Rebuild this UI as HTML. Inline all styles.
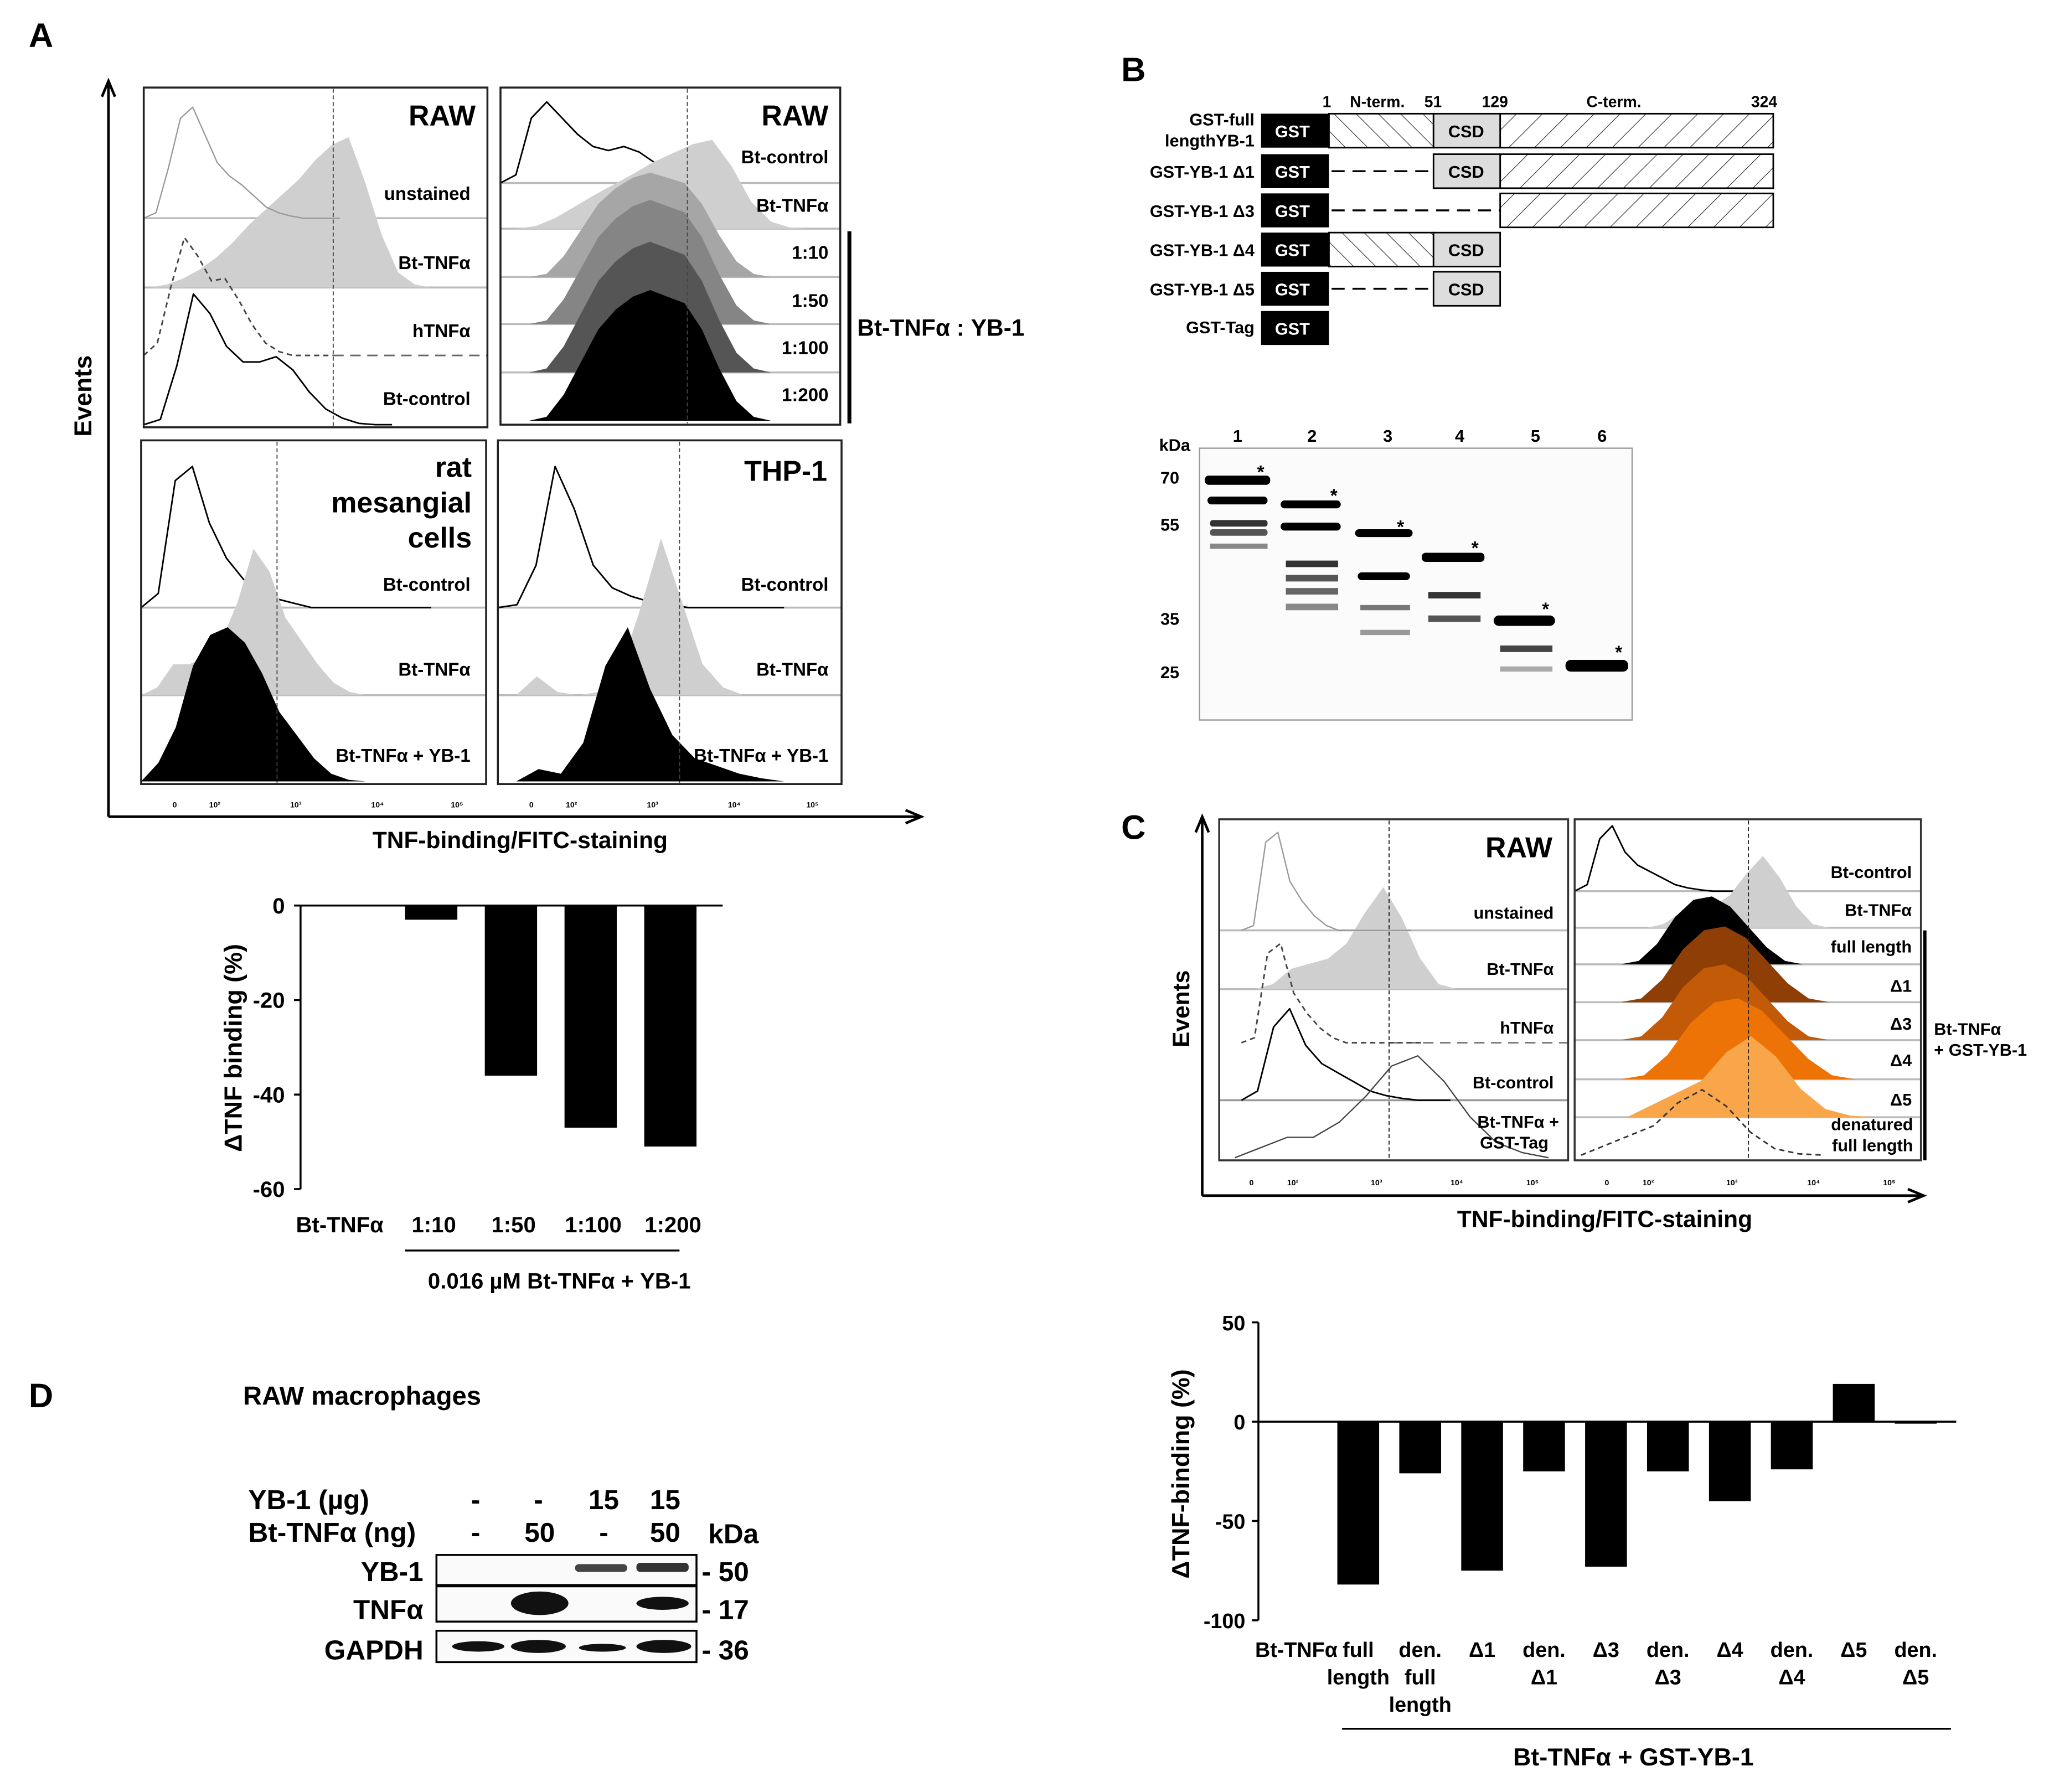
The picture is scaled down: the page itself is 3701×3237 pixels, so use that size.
<!DOCTYPE html>
<html><head><meta charset="utf-8"><style>
html,body{margin:0;padding:0;background:#fff}
svg{display:block}
text{font-family:"Liberation Sans",Arial,sans-serif;font-weight:bold;fill:#000}
</style></head><body>
<svg id="fig" width="3701" height="3237" viewBox="0 0 1568 1371.4" xmlns="http://www.w3.org/2000/svg">
<!-- Panel A -->
<text x="22" y="36" font-size="26">A</text>
<g stroke="#000" stroke-width="2" fill="none">
<line x1="83" y1="625" x2="83" y2="64"/><polyline points="78,74 83,62 88,74"/>
<line x1="83" y1="625" x2="703" y2="625"/><polyline points="693,620 705,625 693,630"/>
</g>
<text x="70" y="303" font-size="19" transform="rotate(-90 70 303)" text-anchor="middle">Events</text>
<text x="398" y="649" font-size="18" text-anchor="middle">TNF-binding/FITC-staining</text>
<g id="histA"></g>
<g fill="none" stroke="#222" stroke-width="1.5">
<rect x="110" y="67" width="263" height="260"/><rect x="383" y="67" width="260" height="258"/>
<rect x="108" y="337" width="264" height="263"/><rect x="381" y="337" width="263" height="263"/>
</g>
<g stroke="#444" stroke-width="0.8" stroke-dasharray="3,2">
<line x1="255" y1="68" x2="255" y2="326"/><line x1="526" y1="68" x2="526" y2="324"/>
<line x1="212" y1="338" x2="212" y2="599"/><line x1="520" y1="338" x2="520" y2="599"/>
</g>
<g font-size="14" text-anchor="end">
<text x="364" y="96" font-size="22">RAW</text><text x="360" y="153">unstained</text><text x="360" y="206">Bt-TNFα</text><text x="360" y="258">hTNFα</text><text x="360" y="310">Bt-control</text>
<text x="634" y="96" font-size="22">RAW</text><text x="634" y="125">Bt-control</text><text x="634" y="162">Bt-TNFα</text><text x="634" y="198">1:10</text><text x="634" y="235">1:50</text><text x="634" y="271">1:100</text><text x="634" y="307">1:200</text>
<text x="361" y="365" font-size="22">rat</text><text x="361" y="392" font-size="22">mesangial</text><text x="361" y="419" font-size="22">cells</text>
<text x="360" y="452">Bt-control</text><text x="360" y="517">Bt-TNFα</text><text x="360" y="583">Bt-TNFα + YB-1</text>
<text x="633" y="368" font-size="22">THP-1</text><text x="634" y="452">Bt-control</text><text x="634" y="517">Bt-TNFα</text><text x="634" y="583">Bt-TNFα + YB-1</text>
</g>
<line x1="650" y1="177" x2="650" y2="324" stroke="#000" stroke-width="3"/>
<text x="656" y="257" font-size="18">Bt-TNFα : YB-1</text>
<g font-size="6" font-weight="normal" fill="#333">
<text x="132" y="618">0</text><text x="160" y="618">10²</text><text x="222" y="618">10³</text><text x="284" y="618">10⁴</text><text x="345" y="618">10⁵</text>
<text x="405" y="618">0</text><text x="433" y="618">10²</text><text x="495" y="618">10³</text><text x="557" y="618">10⁴</text><text x="617" y="618">10⁵</text>
</g>
<!-- Bar chart A -->
<g id="barA"></g>
<text x="185" y="802" font-size="19" text-anchor="middle" transform="rotate(-90 185 802)">ΔTNF binding (%)</text>
<line x1="310" y1="957" x2="520" y2="957" stroke="#000" stroke-width="1.5"/>
<text x="428" y="986" font-size="17" text-anchor="middle">0.016 µM Bt-TNFα + YB-1</text>
<!-- Panel B -->
<text x="858" y="62" font-size="26">B</text>
<g>
<g font-size="12"><text x="1012" y="82">1</text><text x="1033" y="82">N-term.</text><text x="1090" y="82">51</text><text x="1134" y="82">129</text><text x="1214" y="82">C-term.</text><text x="1340" y="82">324</text></g>
<defs><pattern id="hatch" width="14" height="14" patternUnits="userSpaceOnUse" patternTransform="rotate(45)"><line x1="0" y1="0" x2="0" y2="14" stroke="#333" stroke-width="1"/></pattern>
<pattern id="hatchN" width="12" height="12" patternUnits="userSpaceOnUse" patternTransform="rotate(-45)"><line x1="0" y1="0" x2="0" y2="12" stroke="#333" stroke-width="1"/></pattern></defs>
<g font-size="13" text-anchor="end">
<text x="960" y="96">GST-full</text><text x="960" y="112">lengthYB-1</text><text x="960" y="136">GST-YB-1 Δ1</text><text x="960" y="166">GST-YB-1 Δ3</text><text x="960" y="196">GST-YB-1 Δ4</text><text x="960" y="226">GST-YB-1 Δ5</text><text x="960" y="255">GST-Tag</text>
</g>
<g fill="#000"><rect x="965" y="87" width="52" height="26"/><rect x="965" y="118" width="52" height="26"/><rect x="965" y="148" width="52" height="26"/><rect x="965" y="178" width="52" height="26"/><rect x="965" y="208" width="52" height="26"/><rect x="965" y="238" width="52" height="26"/></g>
<g font-size="13" text-anchor="middle"><text x="989" y="105" style="fill:#fff">GST</text><text x="989" y="136" style="fill:#fff">GST</text><text x="989" y="166" style="fill:#fff">GST</text><text x="989" y="196" style="fill:#fff">GST</text><text x="989" y="226" style="fill:#fff">GST</text><text x="989" y="256" style="fill:#fff">GST</text></g>
<g stroke="#000" stroke-width="1.2">
<rect x="1017" y="87" width="80" height="26" fill="url(#hatchN)"/><rect x="1148" y="87" width="209" height="26" fill="url(#hatch)"/>
<rect x="1148" y="118" width="209" height="26" fill="url(#hatch)"/><rect x="1148" y="148" width="209" height="26" fill="url(#hatch)"/>
<rect x="1017" y="178" width="80" height="26" fill="url(#hatchN)"/>
<g fill="#ddd"><rect x="1097" y="87" width="51" height="26"/><rect x="1097" y="118" width="51" height="26"/><rect x="1097" y="178" width="51" height="26"/><rect x="1097" y="208" width="51" height="26"/></g>
<g stroke-dasharray="10,6" stroke-width="1.5"><line x1="1019" y1="131" x2="1097" y2="131"/><line x1="1019" y1="161" x2="1148" y2="161"/><line x1="1019" y1="221" x2="1097" y2="221"/></g>
</g>
<g font-size="13" text-anchor="middle"><text x="1122" y="105">CSD</text><text x="1122" y="136">CSD</text><text x="1122" y="196">CSD</text><text x="1122" y="226">CSD</text></g>
</g>
<g>
<rect x="918" y="343" width="331" height="208" fill="#fbfbfb" stroke="#999" stroke-width="1"/>
<g font-size="13"><text x="887" y="345">kDa</text><text x="888" y="370">70</text><text x="888" y="406">55</text><text x="888" y="478">35</text><text x="888" y="519">25</text></g>
<g font-size="13" text-anchor="middle"><text x="947" y="338">1</text><text x="1004" y="338">2</text><text x="1062" y="338">3</text><text x="1117" y="338">4</text><text x="1175" y="338">5</text><text x="1226" y="338">6</text></g>
<g fill="#000">
<rect x="922" y="364" width="50" height="7" rx="3"/><rect x="924" y="380" width="46" height="6" rx="3"/><rect x="926" y="398" width="44" height="5" rx="2" fill="#333"/><rect x="926" y="405" width="44" height="5" rx="2" fill="#555"/><rect x="926" y="416" width="44" height="4" fill="#888"/>
<rect x="980" y="383" width="46" height="6" rx="3"/><rect x="980" y="400" width="46" height="6" rx="3"/><rect x="984" y="429" width="40" height="5" fill="#333"/><rect x="984" y="440" width="40" height="5" fill="#555"/><rect x="984" y="450" width="40" height="5" fill="#666"/><rect x="984" y="462" width="40" height="5" fill="#888"/>
<rect x="1037" y="405" width="44" height="6" rx="3"/><rect x="1039" y="438" width="40" height="6" rx="3"/><rect x="1041" y="463" width="38" height="4" fill="#777"/><rect x="1041" y="482" width="38" height="4" fill="#999"/>
<rect x="1088" y="423" width="48" height="7" rx="3"/><rect x="1093" y="453" width="40" height="5" fill="#333"/><rect x="1093" y="471" width="40" height="5" fill="#555"/>
<rect x="1143" y="471" width="47" height="8" rx="4"/><rect x="1148" y="494" width="40" height="5" fill="#444"/><rect x="1148" y="510" width="40" height="4" fill="#aaa"/>
<rect x="1198" y="505" width="48" height="9" rx="4"/>
</g>
<g font-size="14"><text x="962" y="366">*</text><text x="1018" y="384">*</text><text x="1069" y="408">*</text><text x="1126" y="424">*</text><text x="1180" y="471">*</text><text x="1236" y="504">*</text></g>
</g>
<!-- Panel C -->
<text x="858" y="642" font-size="26">C</text>
<g stroke="#000" stroke-width="2" fill="none">
<line x1="920" y1="915" x2="920" y2="627"/><polyline points="915,637 920,625 925,637"/>
<line x1="920" y1="915" x2="1470" y2="915"/><polyline points="1460,910 1472,915 1460,920"/>
</g>
<text x="910" y="772" font-size="18" text-anchor="middle" transform="rotate(-90 910 772)">Events</text>
<text x="1228" y="939" font-size="18" text-anchor="middle">TNF-binding/FITC-staining</text>
<g id="histC"></g>
<g fill="none" stroke="#333" stroke-width="1.5"><rect x="933" y="627" width="267" height="261"/><rect x="1205" y="627" width="265" height="261"/></g>
<g stroke="#222" stroke-width="0.8" stroke-dasharray="3,2"><line x1="1063" y1="628" x2="1063" y2="887"/><line x1="1338" y1="628" x2="1338" y2="887"/></g>
<g font-size="13" text-anchor="end">
<text x="1188" y="656" font-size="22">RAW</text><text x="1189" y="703">unstained</text><text x="1189" y="746">Bt-TNFα</text><text x="1189" y="791">hTNFα</text><text x="1189" y="833">Bt-control</text><text x="1193" y="863">Bt-TNFα +</text><text x="1185" y="879">GST-Tag</text>
<text x="1463" y="672">Bt-control</text><text x="1463" y="701">Bt-TNFα</text><text x="1463" y="729">full length</text><text x="1463" y="759">Δ1</text><text x="1463" y="788">Δ3</text><text x="1463" y="816">Δ4</text><text x="1463" y="846">Δ5</text><text x="1464" y="865">denatured</text><text x="1464" y="881">full length</text>
</g>
<line x1="1473" y1="712" x2="1473" y2="888" stroke="#000" stroke-width="2.5"/>
<text x="1480" y="792" font-size="13">Bt-TNFα</text>
<text x="1480" y="808" font-size="13">+ GST-YB-1</text>
<g font-size="6" font-weight="normal">
<text x="956" y="907">0</text><text x="985" y="907">10²</text><text x="1049" y="907">10³</text><text x="1110" y="907">10⁴</text><text x="1168" y="907">10⁵</text>
<text x="1228" y="907">0</text><text x="1257" y="907">10²</text><text x="1321" y="907">10³</text><text x="1383" y="907">10⁴</text><text x="1441" y="907">10⁵</text>
</g>
<!-- Bar chart C -->
<g id="barC"></g>
<text x="910" y="1128" font-size="19" text-anchor="middle" transform="rotate(-90 910 1128)">ΔTNF-binding (%)</text>
<line x1="1027" y1="1323" x2="1493" y2="1323" stroke="#000" stroke-width="1.5"/>
<text x="1250" y="1351" font-size="19" text-anchor="middle">Bt-TNFα + GST-YB-1</text>
<!-- Panel D -->
<text x="22" y="1077" font-size="26">D</text>
<text x="186" y="1075" font-size="20">RAW macrophages</text>
<g font-size="21">
<text x="190" y="1155">YB-1 (µg)</text><text x="190" y="1180">Bt-TNFα (ng)</text>
<text x="364" y="1155" text-anchor="middle">-</text><text x="412" y="1155" text-anchor="middle">-</text><text x="462" y="1155" text-anchor="middle">15</text><text x="509" y="1155" text-anchor="middle">15</text>
<text x="364" y="1180" text-anchor="middle">-</text><text x="413" y="1180" text-anchor="middle">50</text><text x="462" y="1180" text-anchor="middle">-</text><text x="509" y="1180" text-anchor="middle">50</text>
<text x="542" y="1181">kDa</text>
<text x="324" y="1210" text-anchor="end">YB-1</text><text x="324" y="1239" text-anchor="end">TNFα</text><text x="324" y="1270" text-anchor="end">GAPDH</text>
<text x="537" y="1210">- 50</text><text x="537" y="1239">- 17</text><text x="537" y="1270">- 36</text>
</g>
<g>
<g fill="#fafafa" stroke="#000" stroke-width="1.5"><rect x="334" y="1190" width="199" height="23"/><rect x="334" y="1214" width="199" height="27"/><rect x="334" y="1248" width="199" height="24"/></g>
<g fill="#111">
<rect x="440" y="1197" width="40" height="6" rx="3" fill="#444"/><rect x="487" y="1196" width="40" height="7" rx="3" fill="#333"/>
<ellipse cx="413" cy="1227" rx="22" ry="9"/><ellipse cx="507" cy="1227" rx="20" ry="5"/>
<ellipse cx="366" cy="1260" rx="20" ry="4"/><ellipse cx="412" cy="1260" rx="21" ry="5"/><ellipse cx="461" cy="1261" rx="18" ry="3"/><ellipse cx="508" cy="1260" rx="21" ry="5"/>
</g>
</g>
</svg>
<script>
const NS='http://www.w3.org/2000/svg';
// ---------- Bar chart A data ----------
const catsA=['Bt-TNFα','1:10','1:50','1:100','1:200'];
const valsA=[0,-3,-36,-47,-51];
const ticksA=[0,-20,-40,-60];
// ---------- Bar chart C data ----------
const catsC=[['Bt-TNFα'],['full','length'],['den.','full','length'],['Δ1'],['den.','Δ1'],['Δ3'],['den.','Δ3'],['Δ4'],['den.','Δ4'],['Δ5'],['den.','Δ5']];
const valsC=[0,-82,-26,-75,-25,-73,-25,-40,-24,19,-1];
const ticksC=[50,0,-50,-100];
// ---------- Histogram data (relative event counts per log bin) ----------
const hUnst=[0,0.05,0.45,0.9,1,0.75,0.5,0.38,0.3,0.2,0.1,0.05,0.02,0,0,0,0];
const hTnfA=[0,0.02,0.06,0.12,0.2,0.3,0.42,0.52,0.62,0.72,0.85,0.95,1,0.7,0.35,0.1,0.02,0];
const hHtnf=[0,0.1,0.55,0.95,0.8,0.6,0.62,0.45,0.25,0.1,0.03,0,0,0,0];
const hCtrlA=[0,0.04,0.45,1,0.85,0.6,0.48,0.48,0.52,0.42,0.25,0.12,0.05,0.01,0,0];
const hCtrlR=[0,0.1,0.8,1,0.8,0.6,0.45,0.4,0.45,0.38,0.25,0.08,0.02,0,0,0];
const hTnfR=[0,0.03,0.12,0.25,0.38,0.5,0.62,0.75,0.85,0.95,1,0.7,0.3,0.08,0.01,0];
const hRatio=[0,0.03,0.2,0.45,0.7,0.85,0.95,1,0.95,0.9,0.7,0.4,0.15,0.03,0];
const hMesC=[0,0.1,0.9,1,0.6,0.35,0.2,0.12,0.06,0.03,0,0,0,0,0,0,0,0];
const hMesT=[0,0.05,0.2,0.2,0.25,0.35,0.6,0.95,0.8,0.5,0.35,0.2,0.08,0.02,0];
const hMesY=[0,0.12,0.35,0.75,0.95,1,0.9,0.7,0.45,0.3,0.15,0.05,0.01,0];
const hThpC=[0,0.02,0.3,1,0.7,0.3,0.14,0.08,0.04,0.02,0,0,0,0,0,0];
const hThpT=[0,0.12,0.02,0,0.02,0.15,0.55,1,0.6,0.2,0.05,0,0];
const hThpY=[0,0.08,0.05,0.25,0.75,1,0.6,0.3,0.15,0.1,0.05,0.02,0];
const hCUn=[0,0.05,0.9,1,0.5,0.3,0.15,0.05,0,0,0,0,0,0,0];
const hCTnf=[0,0.05,0.2,0.25,0.3,0.45,0.75,1,0.7,0.3,0.05,0];
const hCCtrl=[0,0.1,0.8,1,0.6,0.4,0.3,0.2,0.1,0.05,0.02,0,0,0];
const hCTag=[0,0.1,0.2,0.2,0.35,0.6,0.9,1,0.75,0.4,0.15,0.05,0];
const hCFull=[0,0.05,0.3,0.7,0.95,1,0.85,0.55,0.25,0.05,0];
const hCDen=[0,0.15,0.3,0.45,0.8,1,0.75,0.35,0.1,0.02,0];

function hist(parent,vals,x0,x1,base,h,fill,stroke,sw,dash,name){
  const n=vals.length;let d='M'+x0+','+base;
  for(let i=0;i<n;i++){d+=' L'+(x0+(x1-x0)*i/(n-1)).toFixed(1)+','+(base-vals[i]*h).toFixed(1);}
  d+=' L'+x1+','+base;
  const p=document.createElementNS(NS,'path');
  p.setAttribute('d',d+(fill!=='none'?' Z':''));
  p.setAttribute('fill',fill);p.setAttribute('stroke',stroke);p.setAttribute('stroke-width',sw);
  p.setAttribute('stroke-linejoin','round');
  if(dash)p.setAttribute('stroke-dasharray',dash);
  
  
  parent.appendChild(p);
}
function hline(parent,x0,x1,y,col,dash){
  const l=document.createElementNS(NS,'line');
  l.setAttribute('x1',x0);l.setAttribute('x2',x1);l.setAttribute('y1',y);l.setAttribute('y2',y);
  l.setAttribute('stroke',col||'#bbb');l.setAttribute('stroke-width',dash?1.2:1.5);
  if(dash)l.setAttribute('stroke-dasharray',dash);
  
  
  parent.appendChild(l);
}
const gA=document.getElementById('histA');
hline(gA,110,373,167);hline(gA,110,373,220);hline(gA,255,373,272,'#666','8,5');
hist(gA,hTnfA,115,330,220,115,'#cfcfcf','none',0,null,'hist-raw-bt-tnf');
hist(gA,hUnst,110,260,167,85,'none','#999',1,null,'hist-raw-unstained');
hist(gA,hHtnf,110,255,272,95,'none','#444',1.2,'4,3','hist-raw-htnf');
hist(gA,hCtrlA,110,300,325,100,'none','#000',1.2,null,'hist-raw-bt-control');
hline(gA,383,643,140);hline(gA,383,643,175);hline(gA,383,643,212);hline(gA,383,643,248);hline(gA,383,643,285);
hist(gA,hCtrlR,383,560,140,62,'none','#000',1.2,null,'hist-r-bt-control');
hist(gA,hTnfR,395,620,175,68,'#cfcfcf','none',0,null,'hist-r-bt-tnf');
hist(gA,hRatio,405,590,212,80,'#a6a6a6','none',0,null,'hist-r-1-10');
hist(gA,hRatio,405,590,248,95,'#858585','none',0,null,'hist-r-1-50');
hist(gA,hRatio,405,590,285,100,'#555','none',0,null,'hist-r-1-100');
hist(gA,hRatio,405,590,322,100,'#000','none',0,null,'hist-r-1-200');
hline(gA,108,372,465);hline(gA,108,372,532);
hist(gA,hMesC,108,330,465,108,'none','#000',1.2,null,'hist-mes-bt-control');
hist(gA,hMesT,108,280,532,118,'#cfcfcf','none',0,null,'hist-mes-bt-tnf');
hist(gA,hMesY,108,280,598,118,'#000','none',0,null,'hist-mes-yb1');
hline(gA,381,644,465);hline(gA,381,644,532);
hist(gA,hThpC,381,600,465,108,'none','#000',1.2,null,'hist-thp-bt-control');
hist(gA,hThpT,395,585,532,120,'#cfcfcf','none',0,null,'hist-thp-bt-tnf');
hist(gA,hThpY,395,600,598,118,'#000','none',0,null,'hist-thp-yb1');

const gC=document.getElementById('histC');
hline(gC,933,1200,712);hline(gC,933,1200,757);hline(gC,1063,1200,798,'#777','8,5');hline(gC,933,1200,842,'#999');
hist(gC,hCTnf,960,1115,757,78,'#cfcfcf','none',0,null,'hist-c-bt-tnf');
hist(gC,hCUn,950,1080,712,75,'none','#999',1,null,'hist-c-unstained');
hist(gC,hCUn,950,1090,798,76,'none','#444',1.2,'4,3','hist-c-htnf');
hist(gC,hCCtrl,950,1110,842,70,'none','#000',1.2,null,'hist-c-bt-control');
hist(gC,hCTag,945,1185,886,78,'none','#444',1,null,'hist-c-gst-tag');
hline(gC,1205,1470,682);hline(gC,1205,1470,710);hline(gC,1205,1470,738);hline(gC,1205,1470,767);hline(gC,1205,1470,796);hline(gC,1205,1470,826);hline(gC,1205,1470,855);
hist(gC,hCCtrl,1205,1330,682,50,'none','#000',1.2,null,'hist-c2-bt-control');
hist(gC,hCTnf,1260,1400,710,55,'#cfcfcf','none',0,null,'hist-c2-bt-tnf');
hist(gC,hCFull,1240,1380,738,52,'#000','none',0,null,'hist-c2-full-length');
hist(gC,hCFull,1240,1400,767,58,'#8f3f05','none',0,null,'hist-c2-d1');
hist(gC,hCFull,1240,1400,796,58,'#c35a08','none',0,null,'hist-c2-d3');
hist(gC,hCFull,1240,1420,826,62,'#ee7306','none',0,null,'hist-c2-d4');
hist(gC,hCDen,1245,1435,855,62,'#f9a64a','none',0,null,'hist-c2-d5');
hist(gC,hCDen,1210,1395,884,50,'none','#333',1.2,'4,3','hist-c2-denatured');

function txt(parent,x,y,s,size,anchor,name){
  const t=document.createElementNS(NS,'text');
  t.setAttribute('x',x);t.setAttribute('y',y);t.setAttribute('font-size',size);t.setAttribute('text-anchor',anchor);
  t.textContent=s;
  
  
  parent.appendChild(t);
}
function line(parent,x1,y1,x2,y2,name){
  const l=document.createElementNS(NS,'line');
  l.setAttribute('x1',x1);l.setAttribute('y1',y1);l.setAttribute('x2',x2);l.setAttribute('y2',y2);
  l.setAttribute('stroke','#000');l.setAttribute('stroke-width',1.5);
  
  
  parent.appendChild(l);
}
(function(){
  const g=document.getElementById('barA');
  const yTop=693,yBot=910,vMax=0,vMin=-60,xL=230,xR=553;
  const y=v=>yTop+(vMax-v)/(vMax-vMin)*(yBot-yTop);
  const x=i=>269+61*i;
  line(g,xL,yTop,xL,yBot,'bar-a-y-axis');
  line(g,xL,y(0),xR,y(0),'bar-a-zero-line');
  ticksA.forEach(t=>{line(g,xL-5,y(t),xL,y(t),'bar-a-tick');txt(g,xL-12,y(t)+6,t,17,'end','bar-a-tick-label');});
  valsA.forEach((v,i)=>{
    const r=document.createElementNS(NS,'rect');
    r.setAttribute('x',x(i)-20);r.setAttribute('width',40);
    r.setAttribute('y',Math.min(y(0),y(v)));r.setAttribute('height',Math.abs(y(v)-y(0)));
    r.setAttribute('fill','#000');
    
    
    g.appendChild(r);
    txt(g,i===0?x(i)-9:x(i)+2,943,catsA[i],17,'middle','bar-a-category-label');
  });
})();
(function(){
  const g=document.getElementById('barC');
  const yTop=1012,yBot=1240,vMax=50,vMin=-100,xL=963,xR=1497;
  const y=v=>yTop+(vMax-v)/(vMax-vMin)*(yBot-yTop);
  const x=i=>992+i*47.4;
  line(g,xL,yTop,xL,yBot,'bar-c-y-axis');
  line(g,xL,y(0),xR,y(0),'bar-c-zero-line');
  ticksC.forEach(t=>{line(g,xL-5,y(t),xL,y(t),'bar-c-tick');txt(g,xL-10,y(t)+6,t,16,'end','bar-c-tick-label');});
  valsC.forEach((v,i)=>{
    const r=document.createElementNS(NS,'rect');
    r.setAttribute('x',x(i)-16);r.setAttribute('width',32);
    r.setAttribute('y',Math.min(y(0),y(v)));r.setAttribute('height',Math.abs(y(v)-y(0)));
    r.setAttribute('fill','#000');
    
    
    g.appendChild(r);
    catsC[i].forEach((s,k)=>txt(g,x(i),1268+k*21,s,16,'middle','bar-c-category-label'));
  });
})();
</script>
</body></html>
